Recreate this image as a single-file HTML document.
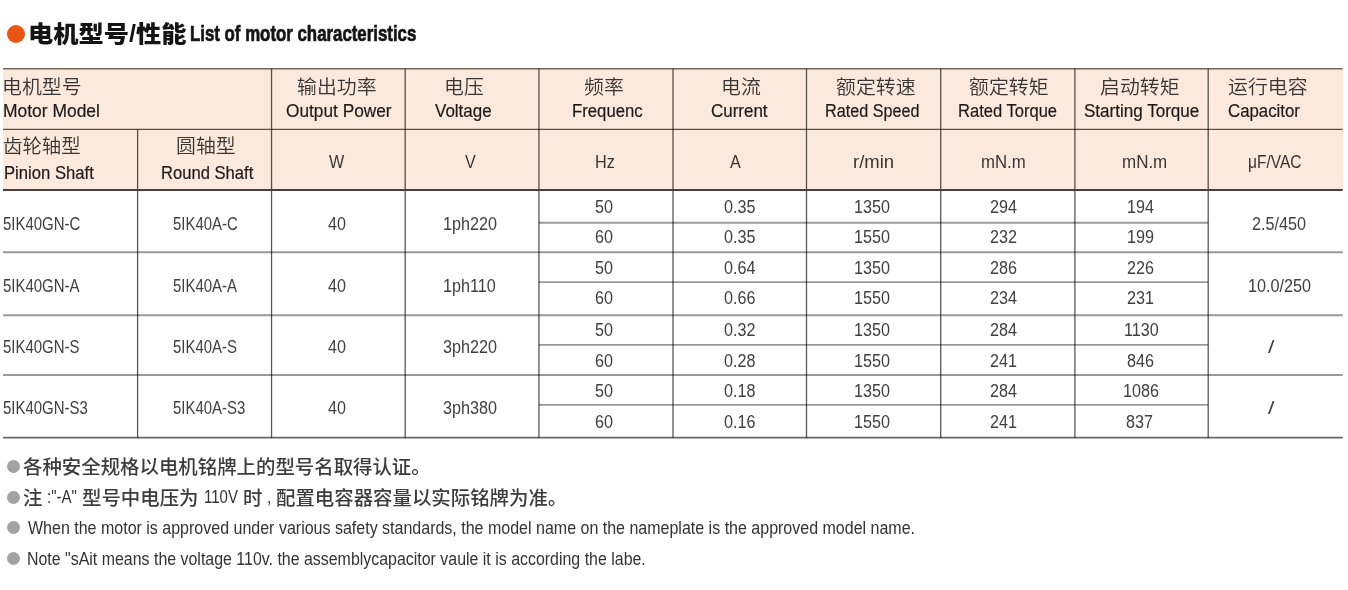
<!DOCTYPE html>
<html lang="zh"><head><meta charset="utf-8"><title>电机型号/性能 List of motor characteristics</title>
<style>
html,body{margin:0;padding:0;background:#fff}
body{width:1348px;height:590px;position:relative;overflow:hidden;font-family:"Liberation Sans","Noto Sans CJK SC",sans-serif}
.hd{position:absolute;left:3px;top:68px;width:1339.7px;height:122px;background:#fce9dd}
.g{position:absolute;left:0;top:0}
.tx{position:absolute;left:0;top:0;width:1348px;height:590px;will-change:transform}
.t{position:absolute;white-space:nowrap;line-height:24px;transform-origin:0 0}
.dot{position:absolute;left:7px;top:24.5px;width:18.2px;height:18.2px;border-radius:50%;background:#e95513}
.b{position:absolute;width:13.2px;height:13.2px;border-radius:50%;background:#a2a2a2}
</style></head><body>
<div class="hd"></div>
<svg class="g" width="1348" height="590" viewBox="0 0 1348 590"><line x1="137.6" y1="129.3" x2="137.6" y2="437.7" stroke="rgba(0,0,0,0.66)" stroke-width="1.3"/><line x1="271.55" y1="68.7" x2="271.55" y2="437.7" stroke="rgba(0,0,0,0.66)" stroke-width="1.3"/><line x1="405.2" y1="68.7" x2="405.2" y2="437.7" stroke="rgba(0,0,0,0.66)" stroke-width="1.3"/><line x1="538.95" y1="68.7" x2="538.95" y2="437.7" stroke="rgba(0,0,0,0.66)" stroke-width="1.3"/><line x1="673.0" y1="68.7" x2="673.0" y2="437.7" stroke="rgba(0,0,0,0.66)" stroke-width="1.3"/><line x1="806.5" y1="68.7" x2="806.5" y2="437.7" stroke="rgba(0,0,0,0.66)" stroke-width="1.3"/><line x1="940.7" y1="68.7" x2="940.7" y2="437.7" stroke="rgba(0,0,0,0.66)" stroke-width="1.3"/><line x1="1074.9" y1="68.7" x2="1074.9" y2="437.7" stroke="rgba(0,0,0,0.66)" stroke-width="1.3"/><line x1="1208.2" y1="68.7" x2="1208.2" y2="437.7" stroke="rgba(0,0,0,0.66)" stroke-width="1.3"/><line x1="3.0" y1="68.7" x2="1342.7" y2="68.7" stroke="rgba(40,20,10,0.62)" stroke-width="1.6"/><line x1="3.0" y1="129.3" x2="1342.7" y2="129.3" stroke="rgba(0,0,0,0.66)" stroke-width="1.3"/><line x1="3.0" y1="190.0" x2="1342.7" y2="190.0" stroke="#4a3f3a" stroke-width="2.0"/><line x1="3.0" y1="252.2" x2="1342.7" y2="252.2" stroke="rgba(0,0,0,0.40)" stroke-width="1.9"/><line x1="3.0" y1="315.3" x2="1342.7" y2="315.3" stroke="rgba(0,0,0,0.40)" stroke-width="1.9"/><line x1="3.0" y1="375.0" x2="1342.7" y2="375.0" stroke="rgba(0,0,0,0.40)" stroke-width="1.9"/><line x1="538.95" y1="222.7" x2="1208.2" y2="222.7" stroke="rgba(0,0,0,0.40)" stroke-width="1.9"/><line x1="538.95" y1="282.1" x2="1208.2" y2="282.1" stroke="rgba(0,0,0,0.40)" stroke-width="1.9"/><line x1="538.95" y1="344.9" x2="1208.2" y2="344.9" stroke="rgba(0,0,0,0.40)" stroke-width="1.9"/><line x1="538.95" y1="404.9" x2="1208.2" y2="404.9" stroke="rgba(0,0,0,0.40)" stroke-width="1.9"/><line x1="3.0" y1="437.7" x2="1342.7" y2="437.7" stroke="rgba(0,0,0,0.6)" stroke-width="1.8"/></svg>
<div class="dot"></div>
<i class="b" style="left:6.5px;top:459.7px"></i><i class="b" style="left:6.5px;top:490.7px"></i><i class="b" style="left:6.5px;top:520.9px"></i><i class="b" style="left:6.5px;top:552.0px"></i>
<div class="tx">
<header>
<div class="t" style="left:27.73px;top:22.30px;font-size:23px;color:#141414;transform:scaleX(1.0970);font-weight:900">电机型号/性能</div>
<div class="t" style="left:190.05px;top:22.30px;font-size:22px;color:#141414;transform:scaleX(0.7649);font-weight:700;-webkit-text-stroke:0.7px #141414">List of motor characteristics</div>
</header>
<main>
<div class="t" style="left:2.21px;top:76.10px;font-size:19.2px;color:#3a3533;transform:scaleX(1.0365);font-weight:350">电机型号</div>
<div class="t" style="left:296.87px;top:76.22px;font-size:19.2px;color:#3a3533;transform:scaleX(1.0365);font-weight:350">输出功率</div>
<div class="t" style="left:443.97px;top:76.10px;font-size:19.2px;color:#3a3533;transform:scaleX(1.0365);font-weight:350">电压</div>
<div class="t" style="left:583.68px;top:76.22px;font-size:19.2px;color:#3a3533;transform:scaleX(1.0365);font-weight:350">频率</div>
<div class="t" style="left:721.34px;top:76.22px;font-size:19.2px;color:#3a3533;transform:scaleX(1.0365);font-weight:350">电流</div>
<div class="t" style="left:836.15px;top:76.22px;font-size:19.2px;color:#3a3533;transform:scaleX(1.0365);font-weight:350">额定转速</div>
<div class="t" style="left:969.32px;top:76.22px;font-size:19.2px;color:#3a3533;transform:scaleX(1.0365);font-weight:350">额定转矩</div>
<div class="t" style="left:1099.75px;top:76.10px;font-size:19.2px;color:#3a3533;transform:scaleX(1.0365);font-weight:350">启动转矩</div>
<div class="t" style="left:1228.10px;top:76.22px;font-size:19.2px;color:#3a3533;transform:scaleX(1.0365);font-weight:350">运行电容</div>
<div class="t" style="left:3.30px;top:99.00px;font-size:17.5px;color:#1f1a18;transform:scaleX(0.9968);-webkit-text-stroke:0.2px #1f1a18">Motor Model</div>
<div class="t" style="left:285.76px;top:99.00px;font-size:17.5px;color:#1f1a18;transform:scaleX(0.9868);-webkit-text-stroke:0.2px #1f1a18">Output Power</div>
<div class="t" style="left:434.56px;top:99.00px;font-size:17.5px;color:#1f1a18;transform:scaleX(0.9694);-webkit-text-stroke:0.2px #1f1a18">Voltage</div>
<div class="t" style="left:571.97px;top:99.00px;font-size:17.5px;color:#1f1a18;transform:scaleX(0.9556);-webkit-text-stroke:0.2px #1f1a18">Frequenc</div>
<div class="t" style="left:711.13px;top:99.00px;font-size:17.5px;color:#1f1a18;transform:scaleX(0.9694);-webkit-text-stroke:0.2px #1f1a18">Current</div>
<div class="t" style="left:825.11px;top:99.00px;font-size:17.5px;color:#1f1a18;transform:scaleX(0.9246);-webkit-text-stroke:0.2px #1f1a18">Rated Speed</div>
<div class="t" style="left:958.18px;top:99.00px;font-size:17.5px;color:#1f1a18;transform:scaleX(0.9454);-webkit-text-stroke:0.2px #1f1a18">Rated Torque</div>
<div class="t" style="left:1083.93px;top:99.00px;font-size:17.5px;color:#1f1a18;transform:scaleX(0.9742);-webkit-text-stroke:0.2px #1f1a18">Starting Torque</div>
<div class="t" style="left:1228.44px;top:99.00px;font-size:17.5px;color:#1f1a18;transform:scaleX(0.9605);-webkit-text-stroke:0.2px #1f1a18">Capacitor</div>
<div class="t" style="left:3.43px;top:134.95px;font-size:19.2px;color:#3a3533;transform:scaleX(1.0121);font-weight:350">齿轮轴型</div>
<div class="t" style="left:176.46px;top:134.95px;font-size:19.2px;color:#3a3533;transform:scaleX(1.0365);font-weight:350">圆轴型</div>
<div class="t" style="left:3.57px;top:161.00px;font-size:17.5px;color:#1f1a18;transform:scaleX(0.9520);-webkit-text-stroke:0.2px #1f1a18">Pinion Shaft</div>
<div class="t" style="left:161.28px;top:161.00px;font-size:17.5px;color:#1f1a18;transform:scaleX(0.9483);-webkit-text-stroke:0.2px #1f1a18">Round Shaft</div>
<div class="t" style="left:328.77px;top:149.80px;font-size:17.5px;color:#3a3533;transform:scaleX(0.9231)">W</div>
<div class="t" style="left:464.53px;top:149.80px;font-size:17.5px;color:#3a3533;transform:scaleX(0.9231)">V</div>
<div class="t" style="left:594.71px;top:149.80px;font-size:17.5px;color:#3a3533;transform:scaleX(0.9263)">Hz</div>
<div class="t" style="left:729.59px;top:149.80px;font-size:17.5px;color:#3a3533;transform:scaleX(0.9231)">A</div>
<div class="t" style="left:852.88px;top:149.80px;font-size:17.5px;color:#3a3533;transform:scaleX(1.0575)">r/min</div>
<div class="t" style="left:980.90px;top:149.80px;font-size:17.5px;color:#3a3533;transform:scaleX(0.9582)">mN.m</div>
<div class="t" style="left:1122.29px;top:149.80px;font-size:17.5px;color:#3a3533;transform:scaleX(0.9695)">mN.m</div>
<div class="t" style="left:1247.79px;top:149.80px;font-size:17.5px;color:#3a3533;transform:scaleX(0.8876)">μF/VAC</div>
<div class="t" style="left:3.16px;top:211.60px;font-size:17.5px;color:#404040;transform:scaleX(0.8555)">5IK40GN-C</div>
<div class="t" style="left:173.36px;top:211.60px;font-size:17.5px;color:#404040;transform:scaleX(0.8555)">5IK40A-C</div>
<div class="t" style="left:328.27px;top:211.60px;font-size:17.5px;color:#404040;transform:scaleX(0.9231)">40</div>
<div class="t" style="left:442.91px;top:211.60px;font-size:17.5px;color:#404040;transform:scaleX(0.9249)">1ph220</div>
<div class="t" style="left:1252.12px;top:211.60px;font-size:17.5px;color:#404040;transform:scaleX(0.9268)">2.5/450</div>
<div class="t" style="left:3.16px;top:274.00px;font-size:17.5px;color:#404040;transform:scaleX(0.8555)">5IK40GN-A</div>
<div class="t" style="left:173.36px;top:274.00px;font-size:17.5px;color:#404040;transform:scaleX(0.8555)">5IK40A-A</div>
<div class="t" style="left:328.27px;top:274.00px;font-size:17.5px;color:#404040;transform:scaleX(0.9231)">40</div>
<div class="t" style="left:443.49px;top:274.00px;font-size:17.5px;color:#404040;transform:scaleX(0.9249)">1ph110</div>
<div class="t" style="left:1247.99px;top:274.00px;font-size:17.5px;color:#404040;transform:scaleX(0.9268)">10.0/250</div>
<div class="t" style="left:3.16px;top:334.80px;font-size:17.5px;color:#404040;transform:scaleX(0.8555)">5IK40GN-S</div>
<div class="t" style="left:173.36px;top:334.80px;font-size:17.5px;color:#404040;transform:scaleX(0.8555)">5IK40A-S</div>
<div class="t" style="left:328.27px;top:334.80px;font-size:17.5px;color:#404040;transform:scaleX(0.9231)">40</div>
<div class="t" style="left:443.15px;top:334.80px;font-size:17.5px;color:#404040;transform:scaleX(0.9249)">3ph220</div>
<div class="t" style="left:1267.80px;top:334.80px;font-size:17.5px;color:#404040;transform:scaleX(1.3263)">/</div>
<div class="t" style="left:3.16px;top:395.90px;font-size:17.5px;color:#404040;transform:scaleX(0.8555)">5IK40GN-S3</div>
<div class="t" style="left:173.36px;top:395.90px;font-size:17.5px;color:#404040;transform:scaleX(0.8555)">5IK40A-S3</div>
<div class="t" style="left:328.27px;top:395.90px;font-size:17.5px;color:#404040;transform:scaleX(0.9231)">40</div>
<div class="t" style="left:443.15px;top:395.90px;font-size:17.5px;color:#404040;transform:scaleX(0.9249)">3ph380</div>
<div class="t" style="left:1267.80px;top:395.90px;font-size:17.5px;color:#404040;transform:scaleX(1.3263)">/</div>
<div class="t" style="left:595.15px;top:195.30px;font-size:17.5px;color:#404040;transform:scaleX(0.9231)">50</div>
<div class="t" style="left:724.46px;top:195.30px;font-size:17.5px;color:#404040;transform:scaleX(0.9231)">0.35</div>
<div class="t" style="left:853.67px;top:195.30px;font-size:17.5px;color:#404040;transform:scaleX(0.9231)">1350</div>
<div class="t" style="left:989.52px;top:195.30px;font-size:17.5px;color:#404040;transform:scaleX(0.9231)">294</div>
<div class="t" style="left:1126.95px;top:195.30px;font-size:17.5px;color:#404040;transform:scaleX(0.9231)">194</div>
<div class="t" style="left:595.03px;top:225.30px;font-size:17.5px;color:#404040;transform:scaleX(0.9231)">60</div>
<div class="t" style="left:724.46px;top:225.30px;font-size:17.5px;color:#404040;transform:scaleX(0.9231)">0.35</div>
<div class="t" style="left:853.67px;top:225.30px;font-size:17.5px;color:#404040;transform:scaleX(0.9231)">1550</div>
<div class="t" style="left:989.75px;top:225.30px;font-size:17.5px;color:#404040;transform:scaleX(0.9231)">232</div>
<div class="t" style="left:1127.18px;top:225.30px;font-size:17.5px;color:#404040;transform:scaleX(0.9231)">199</div>
<div class="t" style="left:595.15px;top:256.40px;font-size:17.5px;color:#404040;transform:scaleX(0.9231)">50</div>
<div class="t" style="left:724.34px;top:256.40px;font-size:17.5px;color:#404040;transform:scaleX(0.9231)">0.64</div>
<div class="t" style="left:853.67px;top:256.40px;font-size:17.5px;color:#404040;transform:scaleX(0.9231)">1350</div>
<div class="t" style="left:989.63px;top:256.40px;font-size:17.5px;color:#404040;transform:scaleX(0.9231)">286</div>
<div class="t" style="left:1127.03px;top:256.40px;font-size:17.5px;color:#404040;transform:scaleX(0.9231)">226</div>
<div class="t" style="left:595.03px;top:286.00px;font-size:17.5px;color:#404040;transform:scaleX(0.9231)">60</div>
<div class="t" style="left:724.46px;top:286.00px;font-size:17.5px;color:#404040;transform:scaleX(0.9231)">0.66</div>
<div class="t" style="left:853.67px;top:286.00px;font-size:17.5px;color:#404040;transform:scaleX(0.9231)">1550</div>
<div class="t" style="left:989.52px;top:286.00px;font-size:17.5px;color:#404040;transform:scaleX(0.9231)">234</div>
<div class="t" style="left:1126.65px;top:286.00px;font-size:17.5px;color:#404040;transform:scaleX(0.9231)">231</div>
<div class="t" style="left:595.15px;top:318.00px;font-size:17.5px;color:#404040;transform:scaleX(0.9231)">50</div>
<div class="t" style="left:724.46px;top:318.00px;font-size:17.5px;color:#404040;transform:scaleX(0.9231)">0.32</div>
<div class="t" style="left:853.67px;top:318.00px;font-size:17.5px;color:#404040;transform:scaleX(0.9231)">1350</div>
<div class="t" style="left:989.52px;top:318.00px;font-size:17.5px;color:#404040;transform:scaleX(0.9231)">284</div>
<div class="t" style="left:1123.90px;top:318.00px;font-size:17.5px;color:#404040;transform:scaleX(0.9231)">1130</div>
<div class="t" style="left:595.03px;top:348.50px;font-size:17.5px;color:#404040;transform:scaleX(0.9231)">60</div>
<div class="t" style="left:724.46px;top:348.50px;font-size:17.5px;color:#404040;transform:scaleX(0.9231)">0.28</div>
<div class="t" style="left:853.67px;top:348.50px;font-size:17.5px;color:#404040;transform:scaleX(0.9231)">1550</div>
<div class="t" style="left:989.75px;top:348.50px;font-size:17.5px;color:#404040;transform:scaleX(0.9231)">241</div>
<div class="t" style="left:1126.75px;top:348.50px;font-size:17.5px;color:#404040;transform:scaleX(0.9231)">846</div>
<div class="t" style="left:595.15px;top:378.50px;font-size:17.5px;color:#404040;transform:scaleX(0.9231)">50</div>
<div class="t" style="left:724.46px;top:378.50px;font-size:17.5px;color:#404040;transform:scaleX(0.9231)">0.18</div>
<div class="t" style="left:853.67px;top:378.50px;font-size:17.5px;color:#404040;transform:scaleX(0.9231)">1350</div>
<div class="t" style="left:989.52px;top:378.50px;font-size:17.5px;color:#404040;transform:scaleX(0.9231)">284</div>
<div class="t" style="left:1123.32px;top:378.50px;font-size:17.5px;color:#404040;transform:scaleX(0.9231)">1086</div>
<div class="t" style="left:595.03px;top:409.80px;font-size:17.5px;color:#404040;transform:scaleX(0.9231)">60</div>
<div class="t" style="left:724.46px;top:409.80px;font-size:17.5px;color:#404040;transform:scaleX(0.9231)">0.16</div>
<div class="t" style="left:853.67px;top:409.80px;font-size:17.5px;color:#404040;transform:scaleX(0.9231)">1550</div>
<div class="t" style="left:989.75px;top:409.80px;font-size:17.5px;color:#404040;transform:scaleX(0.9231)">241</div>
<div class="t" style="left:1126.26px;top:409.80px;font-size:17.5px;color:#404040;transform:scaleX(0.9231)">837</div>
</main>
<footer>
<div class="t" style="left:23.23px;top:456.10px;font-size:19.0px;color:#3c3c3c;transform:scaleX(1.0218);font-weight:500">各种安全规格以电机铭牌上的型号名取得认证。</div>
<div class="t" style="left:23.23px;top:487.38px;font-size:19.0px;color:#3c3c3c;transform:scaleX(1.0218);font-weight:500">注</div>
<div class="t" style="left:46.87px;top:485.40px;font-size:17.5px;color:#333333;transform:scaleX(0.8580)">:"-A"</div>
<div class="t" style="left:81.79px;top:487.25px;font-size:19.0px;color:#3c3c3c;transform:scaleX(1.0218);font-weight:500">型号中电压为</div>
<div class="t" style="left:204.07px;top:485.40px;font-size:17.5px;color:#333333;transform:scaleX(0.8580)">110V</div>
<div class="t" style="left:242.81px;top:487.38px;font-size:19.0px;color:#3c3c3c;transform:scaleX(1.0218);font-weight:500">时</div>
<div class="t" style="left:267.16px;top:485.40px;font-size:17.5px;color:#333333;transform:scaleX(0.8580)">,</div>
<div class="t" style="left:276.18px;top:487.25px;font-size:19.0px;color:#3c3c3c;transform:scaleX(1.0218);font-weight:500">配置电容器容量以实际铭牌为准。</div>
<div class="t" style="left:27.97px;top:516.30px;font-size:17.5px;color:#333333;transform:scaleX(0.9146)">When the motor is approved under various safety standards, the model name on the nameplate is the approved model name.</div>
<div class="t" style="left:26.83px;top:547.40px;font-size:17.5px;color:#333333;transform:scaleX(0.9104)">Note "sAit means the voltage 110v. the assemblycapacitor vaule it is according the labe.</div>
</footer>
</div>
</body></html>
